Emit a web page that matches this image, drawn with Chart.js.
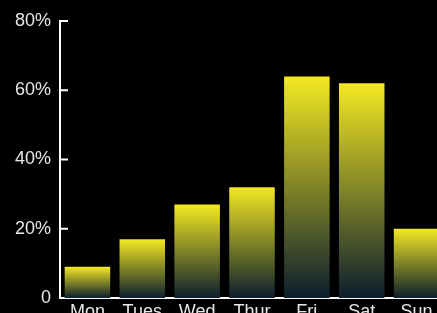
<!DOCTYPE html>
<html>
<head>
<meta charset="utf-8">
<script src="https://cdn.jsdelivr.net/npm/chart.js@4"></script>
<style>
html,body{margin:0;padding:0;background:#000;overflow:hidden;width:437px;height:313px;}
canvas{position:absolute;left:0;top:0;}
</style>
</head>
<body>
<canvas id="c" width="444" height="320"></canvas>
<script>
const categories = ["Mon", "Tues", "Wed", "Thur", "Fri", "Sat", "Sun"];
const values = [9, 17, 27, 32, 64, 62, 20];
const yTicks = [0, 20, 40, 60, 80];

const topColor = "#f4e921";
const bottomColor = "#0c1e2d";

function barGradient(ctx) {
  const chart = ctx.chart;
  const y = chart.scales.y;
  if (!y || ctx.dataIndex === undefined) return topColor;
  const v = values[ctx.dataIndex];
  const yTop = y.getPixelForValue(v);
  const yBase = y.getPixelForValue(0);
  if (!isFinite(yTop) || !isFinite(yBase) || yTop === yBase) return topColor;
  const g = chart.ctx.createLinearGradient(0, yTop, 0, yBase);
  g.addColorStop(0, topColor);
  g.addColorStop(1, bottomColor);
  return g;
}

const innerTicks = {
  id: "innerTicks",
  afterDatasetsDraw(chart) {
    const y = chart.scales.y;
    const ctx = chart.ctx;
    const left = chart.chartArea.left;
    ctx.save();
    ctx.strokeStyle = "#ffffff";
    ctx.lineWidth = 2;
    y.ticks.forEach((t, i) => {
      if (t.value === 0) return;
      const p = y.getPixelForTick(i);
      ctx.beginPath();
      ctx.moveTo(left, p);
      ctx.lineTo(left + 8, p);
      ctx.stroke();
    });
    ctx.restore();
  }
};

new Chart(document.getElementById("c"), {
  type: "bar",
  data: {
    labels: categories,
    datasets: [{
      data: values,
      backgroundColor: barGradient,
      borderWidth: 0,
      categoryPercentage: 1.0,
      barPercentage: 0.83
    }]
  },
  options: {
    responsive: false,
    animation: false,
    devicePixelRatio: 1,
    layout: { padding: { top: 0, right: 0, bottom: 0, left: 0 } },
    plugins: { legend: { display: false }, tooltip: { enabled: false } },
    scales: {
      x: {
        afterFit(scale) { scale.height = 22; },
        grid: { display: false, drawTicks: false },
        border: { display: true, color: "#ffffff", width: 2 },
        ticks: { color: "#e6e6e6", font: { family: "Liberation Sans", size: 18 }, padding: 3, maxRotation: 0, autoSkip: false }
      },
      y: {
        min: 0, max: 80,
        afterFit(scale) { scale.width = 60; scale.paddingTop = 21; },
        afterBuildTicks(scale) { scale.ticks = yTicks.map(v => ({ value: v })); },
        grid: { display: false, drawTicks: false },
        border: { display: true, color: "#ffffff", width: 2 },
        ticks: {
          color: "#e6e6e6",
          font: { family: "Liberation Sans", size: 18 },
          padding: 9,
          callback: (v) => v === 0 ? "0" : v + "%"
        }
      }
    }
  },
  plugins: [innerTicks]
});
</script>
</body>
</html>
